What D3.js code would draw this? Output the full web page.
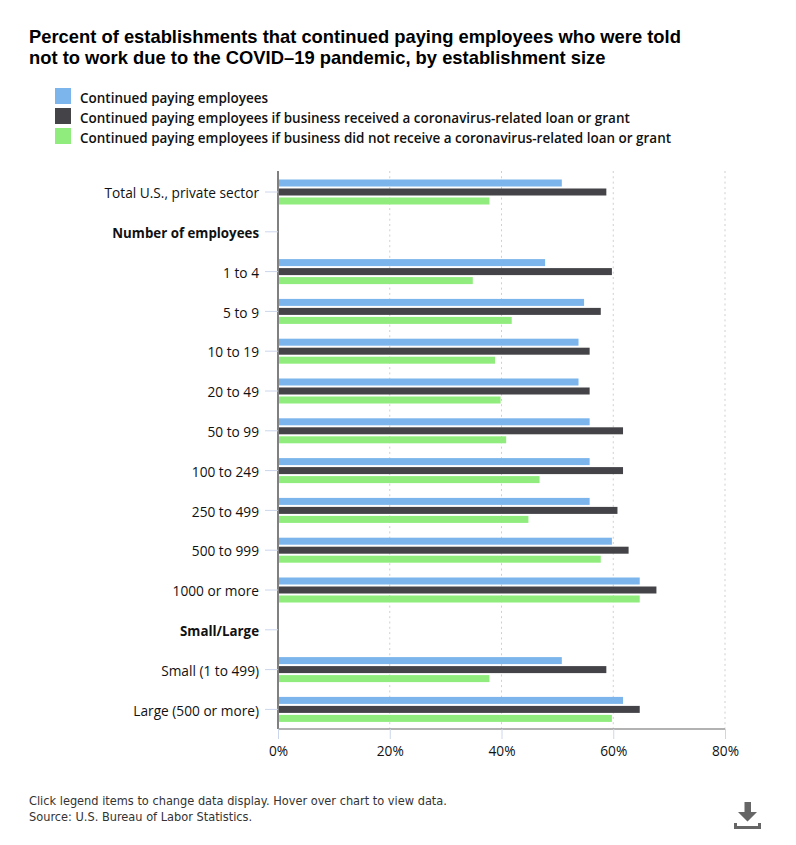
<!DOCTYPE html>
<html><head><meta charset="utf-8">
<script src="https://cdn.jsdelivr.net/npm/d3@7"></script>
<style>
html,body{margin:0;padding:0;background:#fff;}
svg{display:block;}
</style></head><body>
<svg id="c" width="796" height="845"></svg>
<script>
const categories=["Total U.S., private sector","Number of employees","1 to 4","5 to 9","10 to 19","20 to 49","50 to 99","100 to 249","250 to 499","500 to 999","1000 or more","Small/Large","Small (1 to 499)","Large (500 or more)"];
const boldCategories=["Number of employees","Small/Large"];
const seriesNames=["Continued paying employees","Continued paying employees if business received a coronavirus-related loan or grant","Continued paying employees if business did not receive a coronavirus-related loan or grant"];
const seriesColors=["#7cb5ec","#434348","#90ed7d"];
const paying=[51,null,48,55,54,54,56,56,56,60,65,null,51,62];
const payingLoan=[59,null,60,58,56,56,62,62,61,63,68,null,59,65];
const payingNoLoan=[38,null,35,42,39,40,41,47,45,58,65,null,38,60];
const xTicks=[0,20,40,60,80];
const titleLines=["Percent of establishments that continued paying employees who were told","not to work due to the COVID–19 pandemic, by establishment size"];
const footLines=["Click legend items to change data display. Hover over chart to view data.","Source: U.S. Bureau of Labor Statistics."];
const series=[paying,payingLoan,payingNoLoan];

const svg=d3.select("#c");
const bodyFont="'Open Sans',sans-serif";
const L=278,R=725,T=171,B=729;
const x=d3.scaleLinear().domain([0,80]).range([L,R]);
const barX=d3.scaleLinear().domain([0,80]).range([L,723.2]);
const y=d3.scaleBand().domain(categories).range([172.1,729.3]);
const inner=d3.scaleBand().domain([0,1,2]).range([y.bandwidth()/2-12.5,y.bandwidth()/2+12.5]).paddingInner(2/9);

svg.append("g").selectAll("text").data(titleLines).join("text")
  .attr("x",29).attr("y",(d,i)=>42.5+i*21)
  .attr("font-family","'Liberation Sans',Arial,sans-serif").attr("font-weight",700).attr("font-size",18.36).attr("fill","#000").text(d=>d);

const lg=svg.append("g").selectAll("g").data(seriesNames).join("g")
  .attr("transform",(d,i)=>`translate(55,${88+i*20})`);
lg.append("rect").attr("width",16).attr("height",16).attr("fill",(d,i)=>seriesColors[i]);
lg.append("text").attr("x",25).attr("y",15).attr("font-family",bodyFont).attr("font-weight",600).attr("font-size",13.47).attr("fill","#111").text(d=>d);

// gridlines
svg.append("g").selectAll("line").data(xTicks.slice(1)).join("line")
  .attr("x1",d=>x(d)).attr("x2",d=>x(d)).attr("y1",T).attr("y2",B)
  .attr("stroke","#cfcfcf").attr("stroke-width",1).attr("stroke-dasharray","2,3.3");

// bars
svg.append("g").selectAll("g").data(series).join("g").attr("fill",(d,i)=>seriesColors[i])
 .each(function(vals,si){
  d3.select(this).selectAll("rect").data(vals.map((v,i)=>({v,c:categories[i]})).filter(d=>d.v!=null)).join("rect")
   .attr("x",barX(0)+1).attr("y",d=>y(d.c)+inner(si)).attr("width",d=>barX(d.v)-barX(0)-1).attr("height",inner.bandwidth());
 });

// y axis
const yAxis=d3.axisLeft(y).tickSize(13).tickPadding(6);
const gy=svg.append("g").attr("transform",`translate(${L},0)`).call(yAxis);
gy.select(".domain").attr("stroke","#808080").attr("stroke-width",2).attr("d",`M0,${T}V${B}`);
gy.selectAll(".tick line").attr("stroke","#ccd6eb");
gy.selectAll(".tick text").attr("font-family",bodyFont).attr("font-size",d=>boldCategories.includes(d)?13.3:13.7).attr("fill","#111").attr("dy","0.45em")
  .attr("font-weight",d=>boldCategories.includes(d)?700:400);

// x axis
const xAxis=d3.axisBottom(x).tickValues(xTicks).tickFormat(d=>d+"%").tickSize(10).tickPadding(7);
const gx=svg.append("g").attr("transform",`translate(0,${B})`).call(xAxis);
gx.select(".domain").attr("stroke","#999").attr("stroke-width",1.5).attr("d",`M${L},0H${R}`);
gx.selectAll(".tick line").attr("stroke","#ccd6eb");
gx.selectAll(".tick text").attr("font-family",bodyFont).attr("font-size",13.7).attr("fill","#111");

svg.append("g").selectAll("text").data(footLines).join("text")
  .attr("x",29).attr("y",(d,i)=>805+i*15.5)
  .attr("font-family","'DejaVu Sans',sans-serif").attr("font-size",11.38).attr("fill","#333").text(d=>d);

// download icon
const ic=svg.append("g").attr("fill","#666");
ic.append("path").attr("d","M744.5,802H751V812H757L747.5,821.5L738,812H744.5Z");
ic.append("path").attr("d","M734,823H737V826H758V823H761V829H734Z");
</script>
</body></html>
